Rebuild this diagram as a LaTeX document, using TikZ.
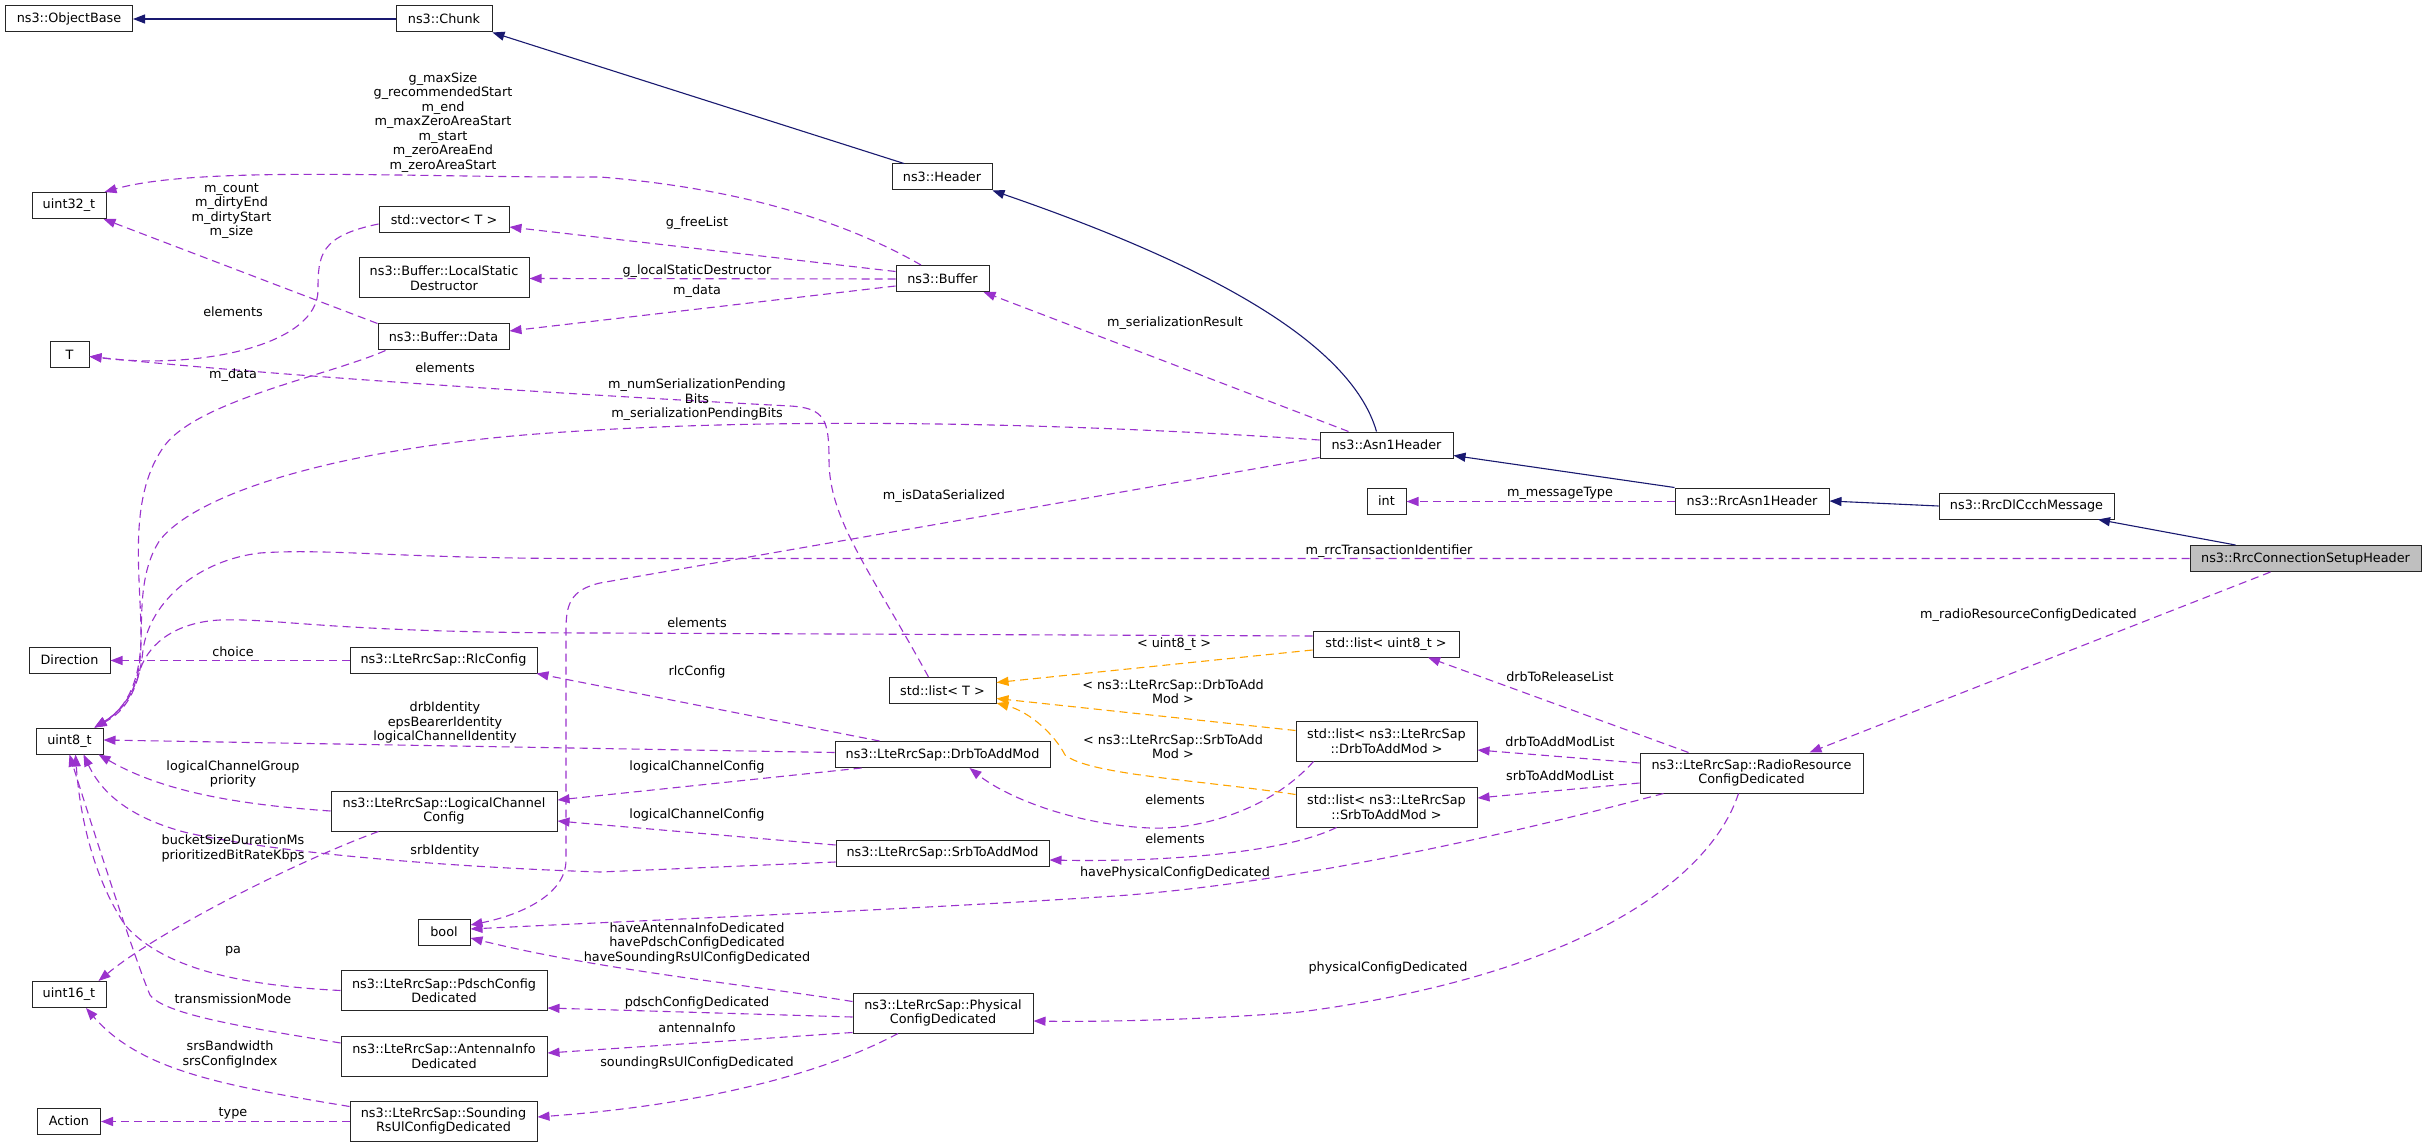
\documentclass[tikz,border=0pt]{standalone}
\usepackage{fontspec}
\setmainfont{DejaVu Sans}
\usetikzlibrary{arrows.meta,calc}
\definecolor{purp}{HTML}{9A32CD}
\definecolor{navyc}{HTML}{191970}
\definecolor{orng}{HTML}{FFA500}
\definecolor{setgray}{HTML}{BFBFBF}
\newcommand\dgfont{\fontsize{12.8}{14.5}\selectfont}
\newcommand\dxbox[6]{\node[cls,minimum width=#4pt,minimum height=#5pt] (#1) at (#2,#3) {#6};}
\begin{document}
\begin{tikzpicture}[x=1pt,y=-1pt,
  cls/.style={draw=black!85,line width=1pt,fill=white,inner sep=0pt,align=center,font=\dgfont},
  lbl/.style={inner sep=0pt,align=center,font=\dgfont},
  dxtip/.style={-{Triangle[length=12pt,width=9pt]}},
  inh/.style={draw=navyc,line width=1.1pt,dxtip},
  use/.style={draw=purp,line width=1.1pt,dash pattern=on 8pt off 5pt,dxtip},
  tmpl/.style={draw=orng,line width=1.1pt,dash pattern=on 8pt off 5pt,dxtip}]
\fill[white] (0,0) rectangle (2427,1147);
\useasboundingbox (0,0) rectangle (2427,1147);

% ---------- nodes ----------
\dxbox{objbase}{69}{19}{127}{26}{ns3::ObjectBase}
\dxbox{chunk}{444}{19}{96}{26}{ns3::Chunk}
\dxbox{uthree}{69}{205.5}{74}{26}{uint32\_t}
\dxbox{vect}{444}{220}{130}{26}{std::vector< T >}
\dxbox{lsd}{444}{278}{170}{40}{ns3::Buffer::LocalStatic\\Destructor}
\dxbox{bdata}{443.5}{337}{131}{26}{ns3::Buffer::Data}
\dxbox{tnode}{69.5}{354.5}{39}{26}{T}
\dxbox{header}{942}{177}{100}{26}{ns3::Header}
\dxbox{buffer}{942.5}{278.5}{93}{26}{ns3::Buffer}
\dxbox{asn}{1386.5}{445}{133}{26}{ns3::Asn1Header}
\dxbox{intn}{1386.5}{501}{39}{26}{int}
\dxbox{rrcasn}{1752}{501}{154}{26}{ns3::RrcAsn1Header}
\dxbox{rrcdl}{2026.5}{506}{175}{26}{ns3::RrcDlCcchMessage}
\node[cls,fill=setgray,minimum width=231pt,minimum height=26pt] (setup) at (2305.5,558.5) {ns3::RrcConnectionSetupHeader};
\dxbox{listu}{1386}{644}{146}{26}{std::list< uint8\_t >}
\dxbox{listt}{942.5}{690.5}{107}{26}{std::list< T >}
\dxbox{dir}{69.5}{660}{81}{26}{Direction}
\dxbox{rlc}{443.5}{660}{187}{26}{ns3::LteRrcSap::RlcConfig}
\dxbox{ueight}{69.5}{741}{67}{26}{uint8\_t}
\dxbox{drb}{942.5}{754.5}{215}{26}{ns3::LteRrcSap::DrbToAddMod}
\dxbox{listd}{1386.5}{741}{181}{40}{std::list< ns3::LteRrcSap\\::DrbToAddMod >}
\dxbox{radio}{1751.5}{773}{223}{40}{ns3::LteRrcSap::RadioResource\\ConfigDedicated}
\dxbox{lists}{1386.5}{807}{181}{40}{std::list< ns3::LteRrcSap\\::SrbToAddMod >}
\dxbox{lcc}{444}{811}{226}{40}{ns3::LteRrcSap::LogicalChannel\\Config}
\dxbox{srb}{942.5}{853}{213}{26}{ns3::LteRrcSap::SrbToAddMod}
\dxbox{booln}{444}{932}{52}{26}{bool}
\dxbox{usix}{69}{994.5}{74}{26}{uint16\_t}
\dxbox{pdsch}{444}{990.5}{206}{40}{ns3::LteRrcSap::PdschConfig\\Dedicated}
\dxbox{phys}{943}{1013}{180}{40}{ns3::LteRrcSap::Physical\\ConfigDedicated}
\dxbox{ant}{444}{1056}{206}{40}{ns3::LteRrcSap::AntennaInfo\\Dedicated}
\dxbox{action}{69}{1121}{63}{26}{Action}
\dxbox{sound}{443.5}{1121}{187}{40}{ns3::LteRrcSap::Sounding\\RsUlConfigDedicated}

% ---------- inheritance ----------
\draw[inh] (chunk) -- (objbase);
\draw[inh] ($(header.north)+(-38,0)$) -- (chunk.south east);
\draw[inh] ($(asn.north)+(-10,0)$) .. controls (1350,340) and (1200,262) .. (header.south east);
\draw[inh] (rrcasn.north west) -- ($(asn.south east)+(0,-3)$);
\draw[inh] (rrcdl.west) -- (rrcasn.east);
\draw[inh] ($(setup.north)+(-70,0)$) -- ($(rrcdl.south)+(71.5,0)$);

% ---------- usage ----------
\draw[use] ($(buffer.north)+(-21.5,0)$) .. controls (860,230) and (760,190) .. (600,177) .. controls (420,178) and (200,165) .. ($(uthree.north east)+(-2,0)$);
\draw[use] (bdata.north west) -- ($(uthree.south east)+(-3,0)$);
\draw[use] ($(vect.west)+(0,4)$) .. controls (320,236) and (318,255) .. (318,290) .. controls (318,345) and (200,370) .. ($(tnode.east)+(0,2)$);
\draw[use] ($(buffer.west)+(0,-7)$) -- ($(vect.east)+(0,7)$);
\draw[use] ($(buffer.west)+(0,0.5)$) -- ($(lsd.east)+(0,0.5)$);
\draw[use] ($(buffer.west)+(0,7.5)$) -- ($(bdata.east)+(0,-6)$);
\draw[use] ($(bdata.south west)+(8,0)$) .. controls (330,375) and (200,400) .. (165,445) .. controls (128,495) and (140,570) .. (141,630) .. controls (142,690) and (120,712) .. ($(ueight.north)+(25,0)$);
\draw[use] ($(asn.west)+(0,-5)$) .. controls (1100,425) and (800,415) .. (550,433) .. controls (350,447) and (200,490) .. (160,540) .. controls (140,570) and (142,610) .. (141,640) .. controls (141,695) and (120,712) .. ($(ueight.north)+(25,0)$);
\draw[use] ($(setup.west)+(0,0)$) -- (600,558.5) .. controls (400,559) and (330,548) .. (260,553) .. controls (200,560) and (150,600) .. (143,650) .. controls (138,700) and (118,715) .. ($(ueight.north)+(25,0)$);
\draw[use] ($(listu.west)+(0,-8)$) -- (600,633) .. controls (330,633) and (280,618) .. (220,620) .. controls (180,622) and (150,640) .. (140,670) .. controls (132,700) and (115,715) .. ($(ueight.north)+(25,0)$);
\draw[use] ($(listt.north)+(-14,0)$) .. controls (870,570) and (829,520) .. (829,460) .. controls (829,420) and (825,408) .. (790,406) .. controls (600,396) and (300,378) .. ($(tnode.east)+(0,2)$);
\draw[use] ($(asn.south west)+(0,-1)$) -- (600,583) .. controls (570,590) and (566,605) .. (566,630) -- (566,860) .. controls (566,895) and (520,915) .. ($(booln.east)+(0,-7)$);
\draw[use] ($(asn.north)+(-38,0)$) -- ($(buffer.south east)+(-6,0)$);
\draw[use] ($(rrcasn.west)+(0,0.5)$) -- ($(intn.east)+(0,0.5)$);
\draw[use] ($(setup.south)+(-35,0)$) -- ($(radio.north)+(58,0)$);
\draw[use] ($(rlc.west)+(0,0.5)$) -- ($(dir.east)+(0,0.5)$);
\draw[use] ($(drb.north west)+(45,0)$) -- ($(rlc.south east)+(-1,0)$);
\draw[use] ($(drb.west)+(0,-2)$) -- ($(ueight.east)+(0,-1)$);
\draw[use] ($(drb.south west)+(27,0)$) -- ($(lcc.east)+(0,-11)$);
\draw[use] ($(srb.west)+(0,-8)$) -- ($(lcc.east)+(0,10)$);
\draw[use] ($(srb.west)+(0,9)$) -- (600,872) .. controls (420,866) and (260,850) .. (184,832) .. controls (140,820) and (105,800) .. ($(ueight.south)+(14,0)$);
\draw[use] (lcc.west) .. controls (230,804) and (160,790) .. ($(ueight.south east)+(-5,0)$);
\draw[use] ($(lcc.south west)+(48,0)$) .. controls (300,860) and (160,930) .. ($(usix.north east)+(-8,0)$);
\draw[use] (pdsch.west) .. controls (230,985) and (160,965) .. (125,925) .. controls (95,880) and (80,820) .. ($(ueight.south)+(6,0)$);
\draw[use] ($(ant.west)+(0,-13)$) .. controls (250,1028) and (165,1015) .. (150,995) .. controls (135,960) and (90,820) .. (ueight.south);
\draw[use] ($(sound.north west)+(0,6)$) .. controls (220,1085) and (140,1070) .. ($(usix.south)+(17,0)$);
\draw[use] ($(sound.west)+(0,0.5)$) -- ($(action.east)+(0,0.5)$);
\draw[use] ($(phys.north west)+(0,9)$) .. controls (750,985) and (600,970) .. ($(booln.east)+(0,6)$);
\draw[use] ($(phys.west)+(0,4)$) -- ($(pdsch.south east)+(0,-3)$);
\draw[use] ($(phys.south west)+(0,-1)$) -- ($(ant.east)+(0,-3)$);
\draw[use] ($(phys.south)+(-45,0)$) .. controls (820,1075) and (700,1105) .. ($(sound.east)+(0,-4)$);
\draw[use] ($(radio.north west)+(49,0)$) -- ($(listu.south)+(42,0)$);
\draw[use] ($(radio.west)+(0,-10)$) -- ($(listd.east)+(0,9)$);
\draw[use] ($(radio.west)+(0,10)$) -- ($(lists.east)+(0,-9)$);
\draw[use] ($(radio.south west)+(24,0)$) .. controls (1450,850) and (1250,888) .. (1100,897) .. controls (900,910) and (650,920) .. ($(booln.east)+(0,-3)$);
\draw[use] ($(radio.south)+(-13,0)$) .. controls (1710,880) and (1580,975) .. (1300,1012) .. controls (1200,1020) and (1100,1022) .. ($(phys.east)+(0,8)$);
\draw[use] ($(listd.south west)+(18,0)$) .. controls (1270,810) and (1200,830) .. (1150,828) .. controls (1080,825) and (1010,800) .. ($(drb.south)+(27,0)$);
\draw[use] ($(lists.south west)+(41,0)$) .. controls (1280,855) and (1150,862) .. ($(srb.east)+(0,7)$);

% ---------- template instances ----------
\draw[tmpl] ($(listu.west)+(0,6)$) -- ($(listt.east)+(0,-8)$);
\draw[tmpl] ($(listd.north west)+(0,10)$) -- ($(listt.east)+(0,8)$);
\draw[tmpl] ($(lists.north west)+(0,8)$) .. controls (1200,780) and (1090,775) .. (1065,755) .. controls (1055,735) and (1030,712) .. ($(listt.south east)+(0,-1)$);

% ---------- labels ----------
\node[lbl] (la) at (443,122.5) {g\_maxSize\\g\_recommendedStart\\m\_end\\m\_maxZeroAreaStart\\m\_start\\m\_zeroAreaEnd\\m\_zeroAreaStart};
\node[lbl] (lb) at (231.5,211) {m\_count\\m\_dirtyEnd\\m\_dirtyStart\\m\_size};
\node[lbl] (lc) at (233,312) {elements};
\node[lbl] (ld) at (697,223) {g\_freeList};
\node[lbl] (le) at (697,271) {g\_localStaticDestructor};
\node[lbl] (lf) at (697,291) {m\_data};
\node[lbl] (lg) at (1175,323) {m\_serializationResult};
\node[lbl] (lh) at (445,368) {elements};
\node[lbl] (li) at (233,375) {m\_data};
\node[lbl] (lj) at (697,400) {m\_numSerializationPending\\Bits\\m\_serializationPendingBits};
\node[lbl] (lk) at (944,496) {m\_isDataSerialized};
\node[lbl] (ll) at (1560,493) {m\_messageType};
\node[lbl] (lm) at (1389,551) {m\_rrcTransactionIdentifier};
\node[lbl] (ln) at (2028.5,615) {m\_radioResourceConfigDedicated};
\node[lbl] (lo) at (697,623) {elements};
\node[lbl] (lp) at (1174,644) {< uint8\_t >};
\node[lbl] (lq) at (233,652) {choice};
\node[lbl] (lr) at (697,672) {rlcConfig};
\node[lbl] (ls) at (1560,677) {drbToReleaseList};
\node[lbl] (lt) at (1173,691.5) {< ns3::LteRrcSap::DrbToAdd\\Mod >};
\node[lbl] (lu) at (445,722.5) {drbIdentity\\epsBearerIdentity\\logicalChannelIdentity};
\node[lbl] (lv) at (1560,742) {drbToAddModList};
\node[lbl] (lw) at (1173,746.5) {< ns3::LteRrcSap::SrbToAdd\\Mod >};
\node[lbl] (lx) at (233,774) {logicalChannelGroup\\priority};
\node[lbl] (ly) at (697,767) {logicalChannelConfig};
\node[lbl] (lz) at (1560,776) {srbToAddModList};
\node[lbl] (maa) at (1175,800) {elements};
\node[lbl] (mab) at (697,815) {logicalChannelConfig};
\node[lbl] (mac) at (1175,839) {elements};
\node[lbl] (mad) at (233,848.5) {bucketSizeDurationMs\\prioritizedBitRateKbps};
\node[lbl] (mae) at (445,851) {srbIdentity};
\node[lbl] (maf) at (1175,873) {havePhysicalConfigDedicated};
\node[lbl] (mag) at (697,943) {haveAntennaInfoDedicated\\havePdschConfigDedicated\\haveSoundingRsUlConfigDedicated};
\node[lbl] (mah) at (233,951) {pa};
\node[lbl] (mai) at (1388,968) {physicalConfigDedicated};
\node[lbl] (maj) at (233,999) {transmissionMode};
\node[lbl] (mak) at (697,1003) {pdschConfigDedicated};
\node[lbl] (mal) at (697,1028) {antennaInfo};
\node[lbl] (mam) at (230,1054.5) {srsBandwidth\\srsConfigIndex};
\node[lbl] (man) at (697,1063) {soundingRsUlConfigDedicated};
\node[lbl] (mao) at (233,1113) {type};
\end{tikzpicture}
\end{document}
